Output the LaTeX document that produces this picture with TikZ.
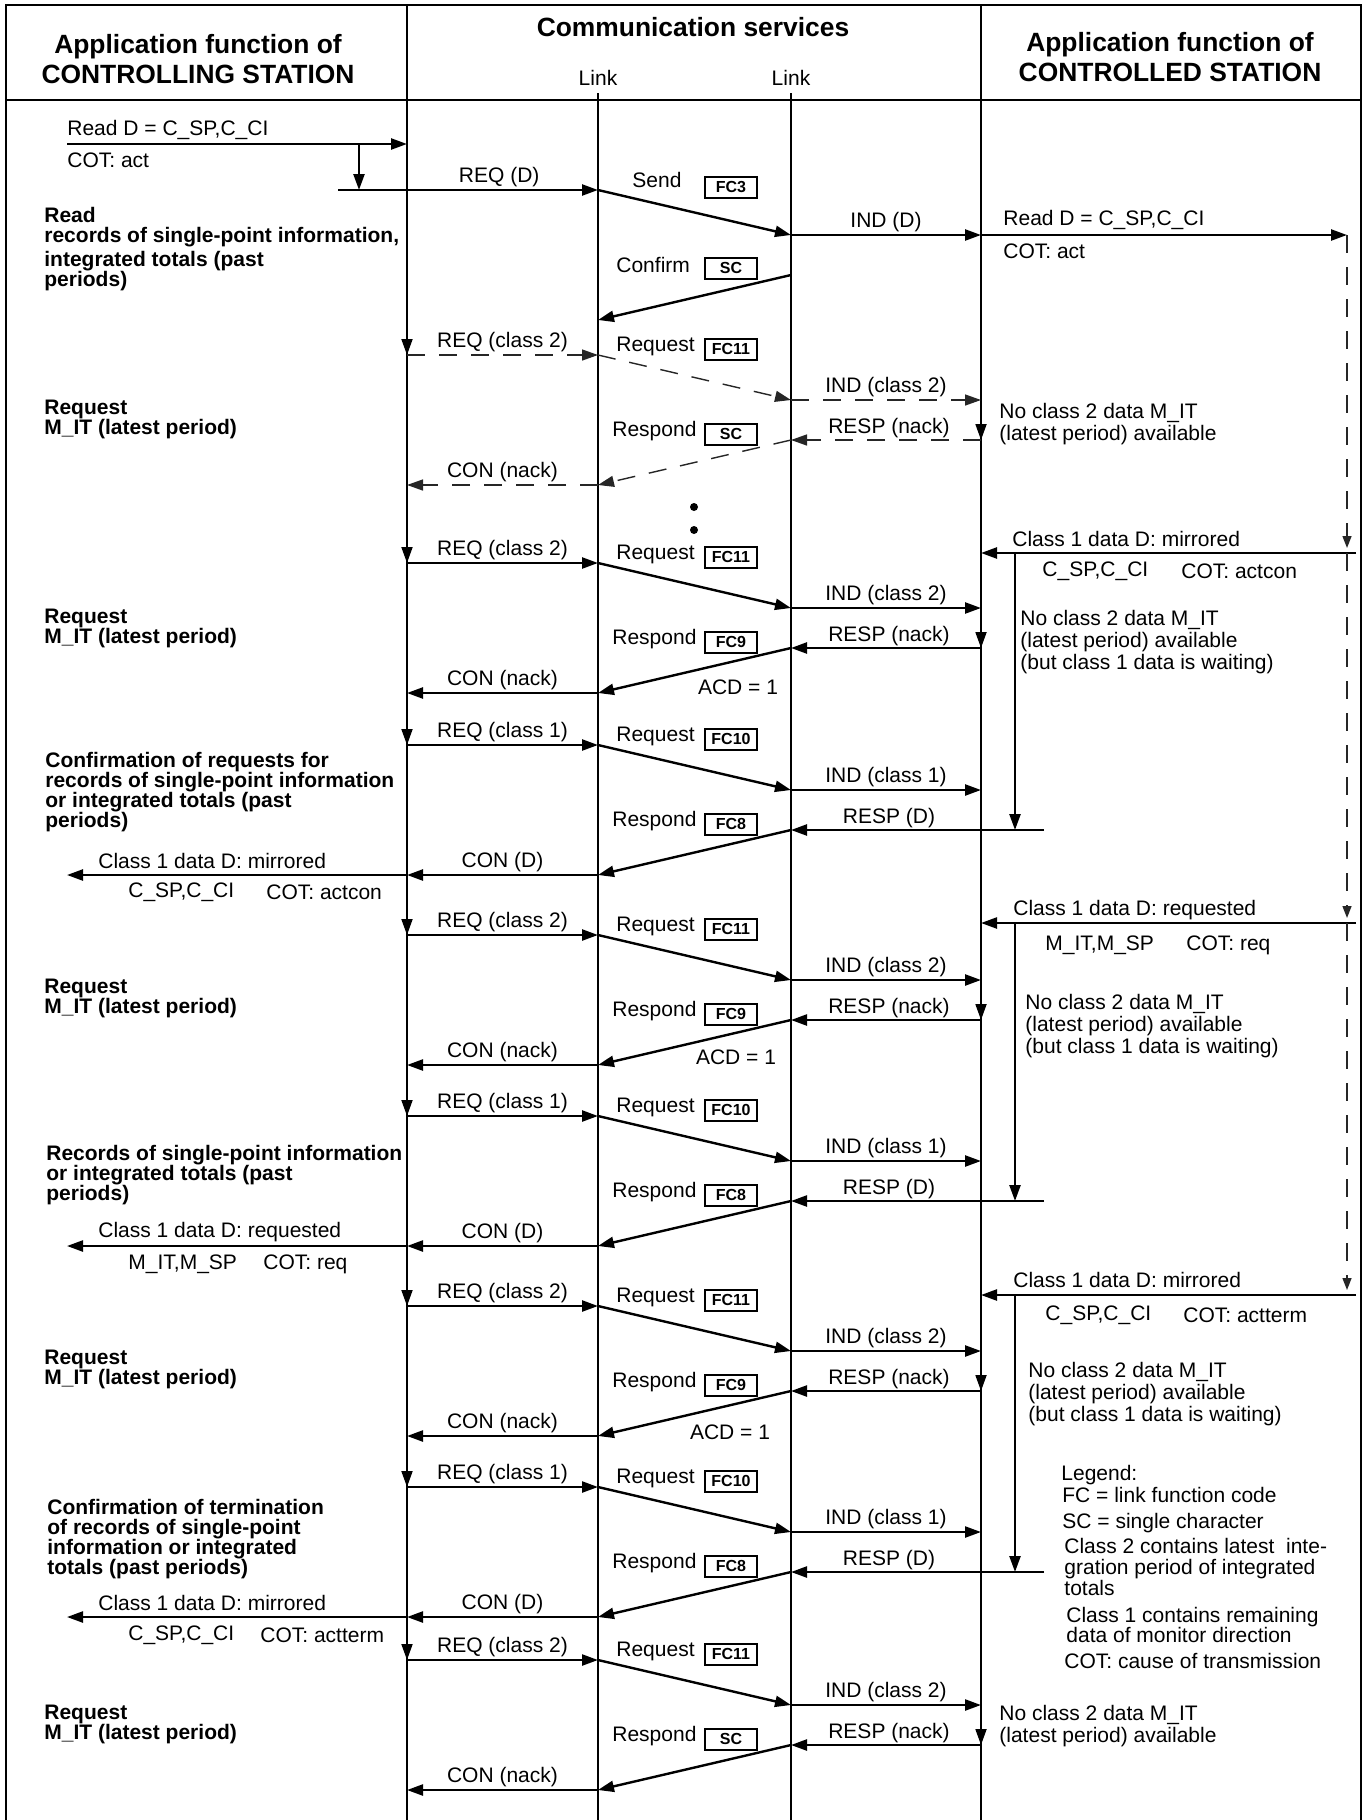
\documentclass[tikz,border=0pt]{standalone}
\usepackage{fontspec}
\setmainfont{Liberation Sans}
\usetikzlibrary{arrows.meta,calc}
\tikzset{
  msg/.style={line width=1.2pt, -{Triangle[length=8pt,width=5.5pt]}},
  msgd/.style={line width=0.7pt, draw=black!85, dash pattern=on 9pt off 7pt, -{Triangle[length=8pt,width=5.5pt]}},
  tick/.style={line width=0.9pt, -{Triangle[length=8pt,width=5.5pt]}},
  dline/.style={line width=0.7pt, draw=black!85, dash pattern=on 9pt off 7pt, -{Triangle[length=6pt,width=4.5pt]}},
  txt/.style={anchor=west, inner sep=0pt, font=\fontsize{10.5}{11}\selectfont},
  note/.style={anchor=north west, align=left, inner sep=0pt, font=\fontsize{10.5}{11}\selectfont},
  act/.style={anchor=north west, align=left, inner sep=0pt, font=\fontsize{10.5}{10}\selectfont\bfseries},
  lbl/.style={above, inner sep=1pt, font=\fontsize{10.5}{11}\selectfont},
  fcbox/.style={draw, line width=1pt, minimum width=26pt, minimum height=10.5pt, inner sep=0pt, font=\fontsize{8}{8}\selectfont\bfseries},
  hdr/.style={align=center, inner sep=0pt, font=\fontsize{13.2}{15}\selectfont\bfseries},
}

\begin{document}
\begin{tikzpicture}[x=0.5pt, y=-0.5pt]
  \useasboundingbox (0,0) rectangle (1367,1820);

  \draw[line width=1pt] (6,1820) -- (6,5) -- (1361,5) -- (1361,1820);
  \draw[line width=1pt] (6,100) -- (1361,100);
  \draw[line width=0.9pt] (407,5) -- (407,1820) (981,5) -- (981,1820);
  \draw[line width=0.9pt] (598,93) -- (598,1820) (791,93) -- (791,1820);

  \node[hdr] (ctl) at (198,59) {Application function of\\CONTROLLING STATION};
  \node[hdr] (com) at (693,27) {Communication services};
  \node[hdr] (ctd) at (1170,57) {Application function of\\CONTROLLED STATION};
  \node[txt, anchor=center] (lk1) at (598,78) {Link};
  \node[txt, anchor=center] (lk2) at (791,78) {Link};

  \coordinate (rd) at (67,144);
  \coordinate (rde) at (407,144);
  \coordinate (t1) at (359,144);
  \coordinate (r0) at (338,190);
  \coordinate (b1) at (598,190);
  \coordinate (c1) at (791,235);
  \coordinate (d1) at (981,235);
  \coordinate (rt) at (1347,235);
  \coordinate (e1) at (791,275);
  \coordinate (g1) at (598,320);

  \draw[msg] (rd) -- (rde);
  \draw[msg] (t1) -- (t1 |- b1);
  \draw[msg] (r0) -- node[lbl, pos=0.62] (req1) {REQ (D)} (b1);
  \draw[msg] (b1) -- (c1);
  \draw[msg] (c1) -- node[lbl] (ind1) {IND (D)} (d1);
  \draw[msg] (d1) -- (rt);
  \draw[msg] (e1) -- (g1);

  \node[txt] (rdl) at (67,130) {Read D = C\_SP,C\_CI};
  \node[txt] (cotl) at (67,160) {COT: act};
  \node[txt] (rdr) at (1003,220) {Read D = C\_SP,C\_CI};
  \node[txt] (cotr) at (1003,251) {COT: act};
  \node[txt] (snd) at (632,180) {Send};
  \node[fcbox] (fc3) at (731,187) {FC3};
  \node[txt] (cnf) at (616,265) {Confirm};
  \node[fcbox] (sc1) at (731,268) {SC};

  \foreach \n/\y/\st/\req/\fa/\resp/\fb/\con/\rx in {
    2/355/msgd/class 2/FC11/nack/SC/nack/981,
    3/563/msg/class 2/FC11/nack/FC9/nack/981,
    4/745/msg/class 1/FC10/D/FC8/D/1044,
    5/935/msg/class 2/FC11/nack/FC9/nack/981,
    6/1116/msg/class 1/FC10/D/FC8/D/1044,
    7/1306/msg/class 2/FC11/nack/FC9/nack/981,
    8/1487/msg/class 1/FC10/D/FC8/D/1044,
    9/1660/msg/class 2/FC11/nack/SC/nack/981}{
    \coordinate (a\n) at (407,\y);
    \coordinate (b\n) at (598,\y);
    \coordinate (c\n) at (791,\y+45);
    \coordinate (d\n) at (981,\y+45);
    \coordinate (e\n) at (\rx,\y+85);
    \coordinate (f\n) at (791,\y+85);
    \coordinate (g\n) at (598,\y+130);
    \coordinate (h\n) at (407,\y+130);
    \draw[tick] ($(a\n)+(0,-22)$) -- (a\n);
    \ifnum\rx=981 \draw[tick] ($(e\n)+(0,-22)$) -- (e\n); \fi
    \draw[\st] (a\n) -- node[lbl] (req\n) {REQ (\req)} (b\n);
    \draw[\st] (b\n) -- (c\n);
    \draw[\st] (c\n) -- node[lbl] (ind\n) {IND (\req)} (d\n);
    \draw[\st] (e\n) -- (f\n);
    \node[lbl] (rsp\n) at (889,\y+85) {RESP (\resp)};
    \draw[\st] (f\n) -- (g\n);
    \draw[\st] (g\n) -- node[lbl] (con\n) {CON (\con)} (h\n);
    \node[txt] (rq\n) at (616,\y-9) {Request};
    \node[fcbox] (fa\n) at (731,\y-6) {\fa};
    \node[txt] (rs\n) at (612,\y+76) {Respond};
    \node[fcbox] (fb\n) at (731,\y+79) {\fb};
  }

  \fill (694,507) circle (4) (694,530) circle (4);

  \node[txt, anchor=center] (acd3) at (738,687) {ACD = 1};
  \node[txt, anchor=center] (acd5) at (736,1057) {ACD = 1};
  \node[txt, anchor=center] (acd7) at (730,1432) {ACD = 1};

  \coordinate (k3) at (1356,553);
  \coordinate (k5) at (1356,923);
  \coordinate (k7) at (1356,1295);
  \coordinate (v3) at (1015,553);
  \coordinate (v5) at (1015,923);
  \coordinate (v7) at (1015,1295);
  \draw[msg] (k3) -- (k3 -| d1);
  \draw[msg] (k5) -- (k5 -| d1);
  \draw[msg] (k7) -- (k7 -| d1);
  \draw[msg] (v3) -- (v3 |- e4);
  \draw[msg] (v5) -- (v5 |- e6);
  \draw[msg] (v7) -- (v7 |- e8);
  \draw[dline] (rt) -- ($(rt |- k3)+(0,-5)$);
  \draw[dline] (rt |- k3) -- ($(rt |- k5)+(0,-5)$);
  \draw[dline] (rt |- k5) -- ($(rt |- k7)+(0,-5)$);

  \node[txt] (cr3) at (1012,539) {Class 1 data D: mirrored};
  \node[txt] (cs3) at (1042,571) {C\_SP,C\_CI};
  \node[txt] (ct3) at (1181,571) {COT: actcon};
  \node[txt] (cr5) at (1013,910) {Class 1 data D: requested};
  \node[txt] (cs5) at (1045,945) {M\_IT,M\_SP};
  \node[txt] (ct5) at (1186,945) {COT: req};
  \node[txt] (cr7) at (1013,1280) {Class 1 data D: mirrored};
  \node[txt] (cs7) at (1045,1315) {C\_SP,C\_CI};
  \node[txt] (ct7) at (1183,1315) {COT: actterm};

  \draw[msg] (h4) -- (h4 -| rd);
  \draw[msg] (h6) -- (h6 -| rd);
  \draw[msg] (h8) -- (h8 -| rd);
  \node[txt] (cl4) at (98,861) {Class 1 data D: mirrored};
  \node[txt] (sl4) at (128,892) {C\_SP,C\_CI};
  \node[txt] (tl4) at (266,892) {COT: actcon};
  \node[txt] (cl6) at (98,1232) {Class 1 data D: requested};
  \node[txt] (sl6) at (128,1264) {M\_IT,M\_SP};
  \node[txt] (tl6) at (263,1264) {COT: req};
  \node[txt] (cl8) at (98,1603) {Class 1 data D: mirrored};
  \node[txt] (sl8) at (128,1635) {C\_SP,C\_CI};
  \node[txt] (tl8) at (260,1635) {COT: actterm};

  \node[act] (op1) at (44,207) {Read\\records of single-point information,\\[2pt]integrated totals (past\\periods)};
  \foreach \n/\y in {2/400,3/609,5/979,7/1350,9/1705}
    \node[act] (op\n) at (44,\y) {Request\\M\_IT (latest period)};
  \node[act] (op4) at (45,752) {Confirmation of requests for\\records of single-point information\\or integrated totals (past\\periods)};
  \node[act] (op6) at (46,1145) {Records of single-point information\\or integrated totals (past\\periods)};
  \node[act] (op8) at (47,1499) {Confirmation of termination\\of records of single-point\\information or integrated\\totals (past periods)};

  \node[note] (nd2) at (999,403) {No class 2 data M\_IT\\(latest period) available};
  \node[note] (nd3) at (1020,610) {No class 2 data M\_IT\\(latest period) available\\(but class 1 data is waiting)};
  \node[note] (nd5) at (1025,994) {No class 2 data M\_IT\\(latest period) available\\(but class 1 data is waiting)};
  \node[note] (nd7) at (1028,1362) {No class 2 data M\_IT\\(latest period) available\\(but class 1 data is waiting)};
  \node[note] (nd9) at (999,1705) {No class 2 data M\_IT\\(latest period) available};

  \node[note] (lg) at (1061,1465) {Legend:};
  \node[note] (lg1) at (1062,1487) {FC = link function code};
  \node[note] (lg2) at (1062,1513) {SC = single character};
  \node[note, font=\fontsize{10.5}{10.5}\selectfont] (lg3) at (1064,1538) {Class 2 contains latest\ \ inte-\\gration period of integrated\\totals};
  \node[note, font=\fontsize{10.5}{9.8}\selectfont] (lg4) at (1066,1607) {Class 1 contains remaining\\data of monitor direction};
  \node[note] (lg5) at (1064,1653) {COT: cause of transmission};
\end{tikzpicture}
\end{document}
